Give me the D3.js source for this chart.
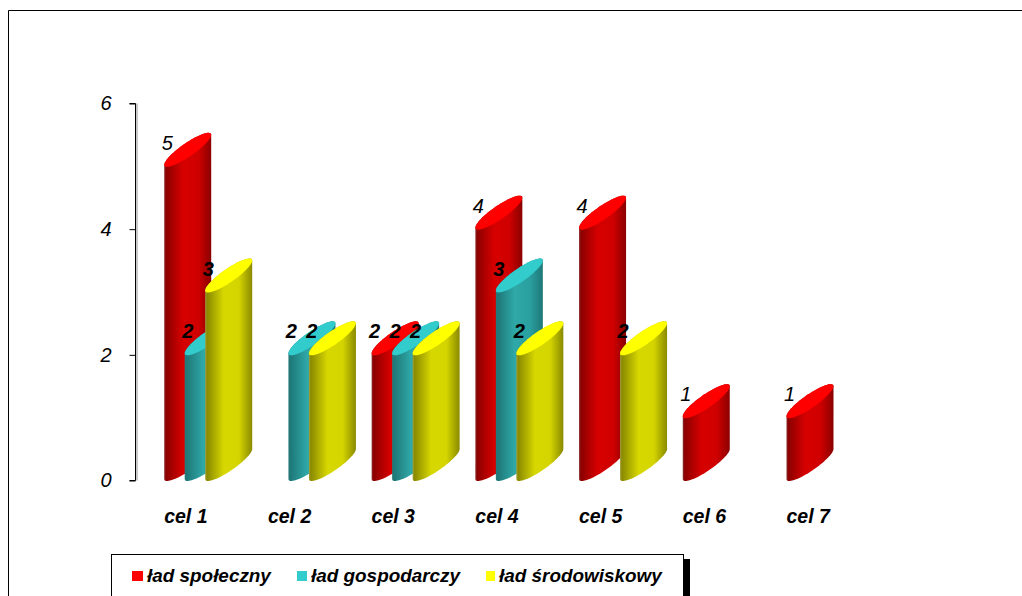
<!DOCTYPE html>
<html><head><meta charset="utf-8">
<script src="https://cdn.jsdelivr.net/npm/d3@7"></script>
<style>html,body{margin:0;padding:0;background:#fff;overflow:hidden}svg{display:block}text{font-family:"Liberation Sans",Arial,sans-serif;font-style:italic;fill:#000}</style>
</head><body><svg id="c" width="1022" height="596"></svg>
<script>
const categories=["cel 1","cel 2","cel 3","cel 4","cel 5","cel 6","cel 7"];
const seriesNames=["ład społeczny","ład gospodarczy","ład środowiskowy"];
const spoleczny=[5,0,2,4,4,1,1];
const gospodarczy=[2,2,2,3,0,0,0];
const srodowiskowy=[3,2,2,2,2,0,0];
const seriesValues=[spoleczny,gospodarczy,srodowiskowy];
const yTicks=[0,2,4,6];
const capColors=["#ff0000","#33cccc","#ffff00"];
const shades=[["#8a3030","#8c0000","#d60000","#d00000","#8a0000"],
              ["#2a7a7a","#1f7878","#2fa8a8","#2aa0a0","#1f7878"],
              ["#a0a040","#8a8a00","#d8d800","#d4d400","#8a8a00"]];

const svg=d3.select("#c");
const y=d3.scaleLinear().domain([0,6]).range([480.5,103.5]);
const x0=d3.scaleBand().domain(categories).range([135,861]);
const x1=d3.scaleBand().domain(seriesNames).range([29.2,90.7]);
const W=47,D=30,LIFT=1.5;

const defs=svg.append("defs");
shades.forEach((s,i)=>{
  const g=defs.append("linearGradient").attr("id","g"+i).attr("x1",0).attr("x2",1).attr("y1",0).attr("y2",0);
  [0,0.04,0.4,0.72,1].forEach((o,k)=>g.append("stop").attr("offset",o).attr("stop-color",s[k]));
});

svg.append("path").attr("d","M8.5,596V10.5H1022").attr("fill","none").attr("stroke","#000");

const axis=svg.append("g").attr("transform","translate(135.5,0)")
  .call(d3.axisLeft(y).tickValues(yTicks).tickSize(6).tickPadding(18).tickFormat(d3.format("d")));
axis.selectAll("line,path").attr("stroke","#000");
axis.select(".domain").attr("d",`M-6,${y(6)}H0V${y(0)}H-6`);
axis.selectAll("text").attr("font-size",20).attr("font-family","Liberation Sans");
svg.append("line").attr("x1",137).attr("x2",137).attr("y1",y(6)).attr("y2",y(0)).attr("stroke","#c8c8c8").attr("stroke-width",2);

const unit=d3.range(0,1.0001,1/40).map(t=>t*Math.PI);
const lineGen=d3.line();
function arc(cx,cy,sign){
  return unit.map(t=>{
    const c=-Math.cos(t), s=Math.sin(t);
    return [cx+c*W/2, cy-c*D/2+sign*s*8];
  });
}
const marks=svg.append("g");
const labels=[];
seriesValues.forEach((vals,si)=>{
  vals.forEach((v,ci)=>{
    if(!v) return;
    const left=x0(categories[ci])+x1(seriesNames[si]);
    const cx=left+W/2, top=y(v)-LIFT, bottom=y(0)-LIFT;
    const body=[...arc(cx,top-D/2,-1),...arc(cx,bottom-D/2,1).reverse()];
    marks.append("path").attr("d",lineGen(body)+"Z").attr("fill",`url(#g${si})`);
    const cap=[...arc(cx,top-D/2,-1),...arc(cx,top-D/2,1).reverse()];
    marks.append("path").attr("d",lineGen(cap)+"Z").attr("fill",capColors[si]);
    labels.push({left,top,v,si});
  });
});
svg.append("g").selectAll("text").data(labels).join("text")
  .attr("x",d=>d.left+3).attr("y",d=>d.top-15).attr("text-anchor","middle")
  .attr("font-size",20).attr("font-weight",d=>d.v==2||d.v==3?"bold":"normal").text(d=>d.v);

svg.append("g").selectAll("text").data(categories).join("text")
  .attr("x",d=>x0(d)+x0.bandwidth()/2-1).attr("y",523).attr("text-anchor","middle")
  .attr("font-size",19.5).attr("font-weight","bold").text(d=>d);

svg.append("rect").attr("x",684).attr("y",559).attr("width",6).attr("height",40).attr("fill","#000");
svg.append("rect").attr("x",111.5).attr("y",554.5).attr("width",572).attr("height",60).attr("fill","#fff").attr("stroke","#000");
const legendX=d3.scaleOrdinal().domain(seriesNames).range([132,297,486]);
const legendW=[11,10,9];
const leg=svg.append("g").selectAll("g").data(seriesNames).join("g")
  .attr("transform",d=>`translate(${legendX(d)},0)`);
leg.append("rect").attr("y",571).attr("width",(d,i)=>legendW[i]).attr("height",10).attr("fill",(d,i)=>capColors[i]);
leg.append("text").attr("x",(d,i)=>legendW[i]+4).attr("y",582).attr("font-size",18.9).attr("font-weight","bold").text(d=>d);
</script></body></html>
